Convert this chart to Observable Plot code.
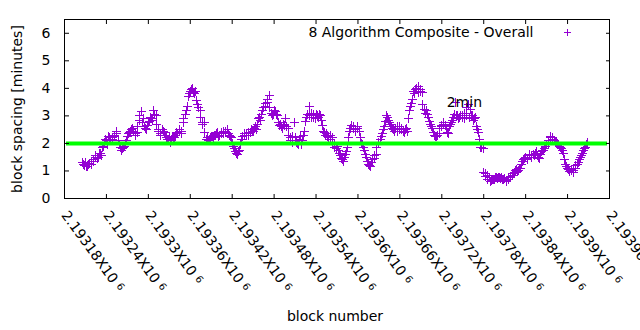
<!DOCTYPE html>
<html>
<head>
<meta charset="utf-8">
<script src="https://cdn.jsdelivr.net/npm/d3@7"></script>
<script src="https://cdn.jsdelivr.net/npm/@observablehq/plot@0.6"></script>
<style>
  html, body { margin: 0; padding: 0; background: white; }
  #chart svg { display: block; }
</style>
</head>
<body>
<div id="chart"></div>
<script>
// ---- data (two interleaved passes along the block axis) ----
const firstBlockA = 2193206;
const firstBlockB = 2193207;
const blockStep = 3;
const spacingMinutesA = [
  1.30,1.20,1.15,1.25,1.22,1.35,1.50,1.45,1.62,1.55,
  1.90,2.15,1.95,2.20,2.15,2.25,2.45,2.10,1.85,1.80,
  1.90,2.10,2.35,2.45,2.55,2.30,2.40,2.85,3.15,2.90,
  2.55,2.65,2.80,2.90,3.20,3.00,2.45,2.35,2.50,2.40,
  2.20,2.15,2.05,2.25,2.20,2.40,2.45,2.35,2.75,3.05,
  3.35,3.80,3.95,3.85,3.90,3.40,3.20,2.70,2.75,2.15,
  2.10,2.20,2.25,2.30,2.35,2.25,2.40,2.35,2.45,2.50,
  2.30,2.20,1.90,1.70,1.60,1.75,2.15,2.30,2.35,2.30,
  2.40,2.45,2.55,2.50,2.90,2.85,3.20,3.45,3.50,3.75,
  3.10,3.05,3.15,3.00,2.65,2.60,2.70,2.90,2.55,2.10,
  2.25,2.75,2.05,1.95,2.25,2.10,2.45,2.95,3.35,2.95,
  3.05,2.90,3.00,3.05,2.85,2.45,2.30,2.25,2.15,2.20,
  1.95,1.80,1.75,1.55,1.40,1.50,1.70,2.20,2.55,2.60,
  2.50,2.60,2.45,2.00,1.85,1.60,1.35,1.20,1.30,1.45,
  1.60,2.00,2.15,2.35,2.60,3.00,2.85,2.70,2.55,2.45,
  2.60,2.50,2.55,2.45,2.50,2.45,3.20,3.45,3.90,3.95,
  4.05,3.90,3.85,3.25,3.20,2.95,2.70,2.55,2.30,2.25,
  2.35,2.60,2.70,2.65,2.40,2.60,2.75,2.95,3.50,3.00,
  2.95,3.00,2.90,3.00,3.40,3.25,3.00,2.90,2.60,2.40,
  1.85,1.80,0.90,0.85,0.75,0.65,0.70,0.75,0.72,0.78,
  0.75,0.70,0.65,0.70,0.75,0.85,0.95,1.05,1.00,1.10,
  1.35,1.45,1.40,1.55,1.50,1.60,1.65,1.55,1.45,1.70,
  1.75,1.90,2.00,2.20,2.20,2.10,2.05,1.95,1.85,1.75,
  1.40,1.15,1.05,1.00,0.95,1.10,1.25,1.40,1.55,1.75,
  1.85,2.05
];
const spacingMinutesB = [
  1.25,1.30,1.18,1.28,1.35,1.42,1.55,1.50,1.65,1.85,
  2.05,2.10,2.25,2.10,2.20,2.30,2.35,1.95,1.75,1.85,
  2.00,2.25,2.40,2.50,2.45,2.35,2.60,3.00,2.75,2.60,
  2.50,2.75,2.95,2.85,3.05,2.70,2.50,2.30,2.45,2.30,
  2.15,2.25,2.10,2.20,2.30,2.35,2.50,2.45,2.90,3.20,
  3.70,3.90,4.00,3.80,3.55,3.30,2.95,2.75,2.40,2.20,
  2.15,2.25,2.20,2.30,2.40,2.30,2.35,2.45,2.40,2.35,
  2.25,2.00,1.80,1.65,1.70,1.95,2.25,2.35,2.30,2.40,
  2.50,2.45,2.60,2.70,2.95,3.05,3.30,3.35,3.60,3.30,
  3.00,3.20,3.05,2.75,2.70,2.55,2.65,2.60,2.30,2.20,
  2.05,2.20,2.00,2.15,1.95,2.30,2.80,3.05,3.00,3.10,
  2.95,3.05,2.95,3.00,2.65,2.40,2.35,2.20,2.30,2.05,
  1.85,1.90,1.65,1.45,1.35,1.60,1.85,2.45,2.65,2.55,
  2.45,2.55,2.20,1.95,1.75,1.50,1.25,1.15,1.40,1.55,
  1.85,2.05,2.25,2.50,2.80,2.95,2.75,2.60,2.50,2.55,
  2.45,2.60,2.50,2.40,2.55,2.90,3.35,3.60,3.80,4.00,
  3.85,3.95,3.40,3.10,3.05,2.80,2.60,2.40,2.25,2.30,
  2.55,2.65,2.75,2.55,2.35,2.70,2.85,3.05,3.00,2.90,
  3.00,2.95,3.10,3.30,2.95,3.00,2.85,2.95,2.50,2.15,
  1.85,0.95,0.80,0.70,0.62,0.70,0.68,0.78,0.75,0.72,
  0.68,0.72,0.62,0.78,0.80,0.90,1.00,0.98,1.08,1.25,
  1.40,1.50,1.45,1.60,1.55,1.55,1.70,1.50,1.60,1.75,
  1.80,1.95,2.10,2.25,2.15,2.05,2.00,1.90,1.80,1.65,
  1.25,1.10,0.98,1.05,1.00,1.20,1.30,1.50,1.65,1.80,
  1.95
];

const xTicks = [2193180,2193240,2193300,2193360,2193420,2193480,2193540,2193600,2193660,2193720,2193780,2193840,2193900,2193960];
const xTickLabels = ["2.19318","2.19324","2.1933","2.19336","2.19342","2.19348","2.19354","2.1936","2.19366","2.19372","2.19378","2.19384","2.1939","2.19396"];
const xTickSuffix = "X10 ";
const xTickExponent = "6";
const yTicks = [0,1,2,3,4,5,6];
const targetLevel = [2];
const annotation = [{block: 2193727, minutes: 3.5, label: "2min"}];
const legendLabel = "8 Algorithm Composite - Overall";
const xLabel = "block number";
const yLabel = "block spacing [minutes]";

// ---- chart ----
const pointColor = "#9400d3";
const plusSymbol = {
  draw(context, size) {
    const r = Math.sqrt(size / Math.PI);
    context.moveTo(-r, 0); context.lineTo(r, 0);
    context.moveTo(0, -r); context.lineTo(0, r);
  }
};
const data = [
  ...spacingMinutesA.map((v, i) => ({block: firstBlockA + i * blockStep, minutes: v})),
  ...spacingMinutesB.map((v, i) => ({block: firstBlockB + i * blockStep, minutes: v}))
].sort((a, b) => a.block - b.block);

const chart = Plot.plot({
  width: 640,
  height: 330,
  marginLeft: 64,
  marginRight: 31,
  marginTop: 19,
  marginBottom: 132,
  style: {fontFamily: "'DejaVu Sans', sans-serif", fontSize: "14px", color: "black", background: "white"},
  x: {domain: [2193180, 2193960], axis: null},
  y: {domain: [0, 6.5], axis: null},
  marks: [
    Plot.dot(data, {x: "block", y: "minutes", symbol: plusSymbol, r: 4.5, stroke: pointColor, fill: "none", strokeWidth: 1, shapeRendering: "crispEdges"}),
    Plot.ruleY(targetLevel, {stroke: "#00ff00", strokeWidth: 4, insetLeft: 2, insetRight: 2}),
    Plot.frame({stroke: "black", strokeWidth: 1, shapeRendering: "crispEdges"}),
    Plot.axisY({ticks: yTicks, anchor: "left", tickSize: -5, tickFormat: () => "", label: null}),
    Plot.axisY({ticks: yTicks, anchor: "right", tickSize: -4, tickFormat: () => "", label: null}),
    Plot.axisY({ticks: yTicks, anchor: "left", tickSize: 0, tickPadding: 14, tickFormat: d => String(d), label: null, fontSize: 14}),
    Plot.axisX({ticks: xTicks, anchor: "bottom", tickSize: -4, tickFormat: () => "", label: null}),
    Plot.axisX({ticks: xTicks, anchor: "top", tickSize: -4, tickFormat: () => "", label: null}),
    Plot.text(xTicks, {x: d => d, frameAnchor: "bottom", text: (d, i) => xTickLabels[i], rotate: 54, textAnchor: "start", lineAnchor: "middle", dy: 14, fontSize: 14}),
    Plot.text(annotation, {x: "block", y: "minutes", text: "label", textAnchor: "start", lineAnchor: "middle", fontSize: 14}),
    Plot.text([legendLabel], {frameAnchor: "top-right", text: d => d, textAnchor: "end", lineAnchor: "middle", dx: -76, dy: 13, fontSize: 14}),
    Plot.dot([legendLabel], {frameAnchor: "top-right", dx: -42, dy: 13, symbol: plusSymbol, r: 3.5, stroke: pointColor, fill: "none", strokeWidth: 1, shapeRendering: "crispEdges"}),
    Plot.text([yLabel], {frameAnchor: "left", text: d => d, rotate: -90, dx: -47, lineAnchor: "middle", textAnchor: "middle", fontSize: 14}),
    Plot.text([xLabel], {frameAnchor: "bottom", text: d => d, dy: 118, dx: -2, lineAnchor: "middle", textAnchor: "middle", fontSize: 14})
  ]
});

// superscript exponent on x tick labels
const ns = "http://www.w3.org/2000/svg";
const labelSet = new Set(xTickLabels);
chart.querySelectorAll("text").forEach(t => {
  const s = t.textContent;
  if (!labelSet.has(s) || t.children.length) return;
  t.textContent = "";
  const a = document.createElementNS(ns, "tspan");
  a.textContent = s + xTickSuffix;
  const b = document.createElementNS(ns, "tspan");
  b.textContent = xTickExponent;
  b.setAttribute("font-size", "10");
  b.setAttribute("dy", "-3");
  t.appendChild(a);
  t.appendChild(b);
});

document.getElementById("chart").appendChild(chart);
</script>
</body>
</html>
